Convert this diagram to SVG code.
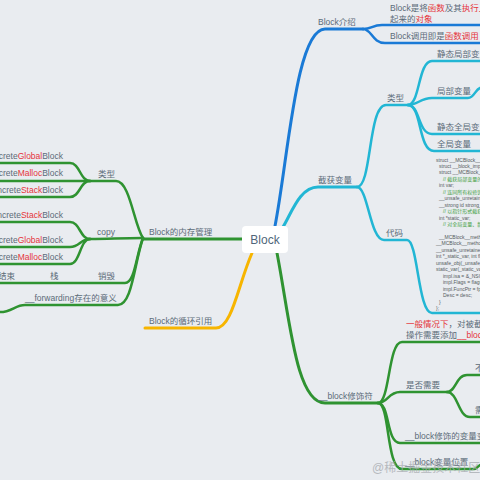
<svg xmlns="http://www.w3.org/2000/svg" width="480" height="480" viewBox="0 0 480 480">
<style>
text{font-family:"Liberation Sans","Noto Sans CJK SC",sans-serif;font-size:8.5px;fill:#5b6b78}
.r{fill:#e5343b}
.c{font-size:5px;fill:#555b60}
.cm{font-size:5px;fill:#3e9e3e}
.l{fill:none;stroke-linecap:round;stroke-linejoin:round}
.b{stroke:#1a7ad6}
.cy{stroke:#22b6d4}
.g{stroke:#2f9331}
.o{stroke:#f7b500}
.m{stroke-width:3}
.s{stroke-width:2.5}
.wm{font-size:12px;fill:#a9adb2;opacity:.8}
</style>
<rect width="480" height="480" fill="#e9ecf0"/>
<g id="connectors">
<path class="l b m" d="M275,226 C288,160 296,29 325,29 H363"/>
<path class="l b s" d="M363,29 C372,29 372,25 382,25 H480"/>
<path class="l b s" d="M363,29 C372,29 372,43 385,43 H480"/>
<path class="l cy m" d="M283,227 C292,212 300,187 318,187 H357"/>
<path class="l cy s" d="M357,187 C372,187 368,105 386,105 H408"/>
<path class="l cy s" d="M357,187 C368,187 370,240 384,240 H407 C418,240 418,313 432,313 H480"/>
<path class="l cy s" d="M408,105 C420,105 418,61 432,61 H480"/>
<path class="l cy s" d="M408,105 C418,105 420,98 432,98 H468 C474,98 475,90 480,88"/>
<path class="l cy s" d="M408,105 C420,105 418,134 432,134 H480"/>
<path class="l cy s" d="M408,105 C422,105 418,151 434,151 H480"/>
<path class="l g m" d="M242,239 H143"/>
<path class="l g s" d="M143,238 C134,225 130,181 116,181 H90"/>
<path class="l g s" d="M143,238 C120,238 110,239 90,239"/>
<path class="l g s" d="M143,238 C136,255 135,283 125,283 H0"/>
<path class="l g s" d="M143,238 C134,265 132,305 118,305 H25 C15,305 12,312 0,312"/>
<path class="l g s" d="M90,181 C80,181 80,163 70,163 H0"/>
<path class="l g s" d="M90,181 H0"/>
<path class="l g s" d="M90,181 C80,181 80,197 70,197 H0"/>
<path class="l g s" d="M90,239 C80,239 80,222 70,222 H0"/>
<path class="l g s" d="M90,239 C80,239 80,247 70,247 H0"/>
<path class="l g s" d="M90,239 C80,239 80,264 70,264 H0"/>
<path class="l o m" d="M252,253 C238,285 232,328 216,328 H145"/>
<path class="l g m" d="M277,253 C290,320 296,403 325,403 H378"/>
<path class="l g s" d="M378,403 C390,403 388,342 402,342 H480"/>
<path class="l g s" d="M378,403 C388,403 388,392 400,392 H447"/>
<path class="l g s" d="M447,392 C456,392 456,375 467,375 H480"/>
<path class="l g s" d="M447,392 C458,392 458,417 470,417 H480"/>
<path class="l g s" d="M378,403 C390,403 386,443 400,443 H480"/>
<path class="l g s" d="M378,403 C390,403 386,469 402,469 H474 C477,469 478,466 480,465"/>
</g>
<g id="root">
<rect x="242" y="226" width="46" height="27" rx="4" fill="#ffffff"/>
<text x="265" y="244" text-anchor="middle" style="font-size:12px;fill:#50667a">Block</text>
</g>
<g id="n-intro"><text x="318" y="24.5">Block介绍</text></g>
<g id="n-intro-1"><text x="390" y="11">Block是将<tspan class="r">函数</tspan>及其<tspan class="r">执行上下文</tspan>封装</text><text x="390" y="22">起来的<tspan class="r">对象</tspan></text></g>
<g id="n-intro-2"><text x="390" y="38.5">Block调用即是<tspan class="r">函数调用</tspan></text></g>
<g id="n-capture"><text x="318" y="182.5">截获变量</text></g>
<g id="n-ctype"><text x="387" y="100.5">类型</text></g>
<g id="n-ct1"><text x="437" y="56.5">静态局部变量</text></g>
<g id="n-ct2"><text x="437" y="93.5">局部变量</text></g>
<g id="n-ct3"><text x="437" y="129.5">静态全局变量</text></g>
<g id="n-ct4"><text x="437" y="146.5">全局变量</text></g>
<g id="n-code-label"><text x="386" y="235.5">代码</text></g>
<g id="n-code">
<text class="c" x="436" y="161.5">struct __MCBlock__method_0_block_impl_0 {</text>
<text class="c" x="439" y="168">struct __block_impl impl;</text>
<text class="c" x="439" y="174.4">struct __MCBlock__method_0_block_desc_0* Desc;</text>
<text class="cm" x="443" y="180.9">// 截获局部变量的值</text>
<text class="c" x="439" y="187.3">int var;</text>
<text class="cm" x="443" y="193.8">// 连同所有权修饰符一起截获</text>
<text class="c" x="439" y="200.2">__unsafe_unretained id unsafe_obj;</text>
<text class="c" x="439" y="206.7">__strong id strong_obj;</text>
<text class="cm" x="443" y="213.1">// 以指针形式截获局部静态变量</text>
<text class="c" x="439" y="219.6">int *static_var;</text>
<text class="cm" x="443" y="226">// 对全局变量、静态全局变量不截获</text>
<text class="c" x="439" y="239">__MCBlock__method_0_block_impl_0(void *fp,</text>
<text class="c" x="436" y="245.4">__MCBlock__method_0_block_desc_0 *desc, int _var,</text>
<text class="c" x="436" y="251.9">__unsafe_unretained id _unsafe_obj, __strong id _strong_obj,</text>
<text class="c" x="436" y="258.3">int *_static_var, int flags=0) : var(_var),</text>
<text class="c" x="436" y="264.8">unsafe_obj(_unsafe_obj), strong_obj(_strong_obj),</text>
<text class="c" x="436" y="271.2">static_var(_static_var) {</text>
<text class="c" x="443" y="277.7">impl.isa = &amp;_NSConcreteStackBlock;</text>
<text class="c" x="443" y="284.1">impl.Flags = flags;</text>
<text class="c" x="443" y="290.6">impl.FuncPtr = fp;</text>
<text class="c" x="443" y="297">Desc = desc;</text>
<text class="c" x="439" y="303.5">}</text>
<text class="c" x="436" y="309.9">};</text>
</g>
<g id="n-mem"><text x="149" y="234.5">Block的内存管理</text></g>
<g id="n-mtype"><text x="98" y="176.5">类型</text></g>
<g id="n-mt1"><text x="63" y="158.5" text-anchor="end">_NSConcrete<tspan class="r">Global</tspan>Block</text></g>
<g id="n-mt2"><text x="63" y="175.5" text-anchor="end">_NSConcrete<tspan class="r">Malloc</tspan>Block</text></g>
<g id="n-mt3"><text x="63" y="192.5" text-anchor="end">_NSConcrete<tspan class="r">Stack</tspan>Block</text></g>
<g id="n-copy"><text x="97" y="234.5">copy</text></g>
<g id="n-cp1"><text x="63" y="217.5" text-anchor="end">_NSConcrete<tspan class="r">Stack</tspan>Block</text></g>
<g id="n-cp2"><text x="63" y="242.5" text-anchor="end">_NSConcrete<tspan class="r">Global</tspan>Block</text></g>
<g id="n-cp3"><text x="63" y="259.5" text-anchor="end">_NSConcrete<tspan class="r">Malloc</tspan>Block</text></g>
<g id="n-destroy"><text x="98" y="278.5">销毁</text></g>
<g id="n-stack"><text x="50" y="278.5">栈</text></g>
<g id="n-end"><text x="-2" y="278.5">结束</text></g>
<g id="n-fwd"><text x="25" y="300.5">__forwarding存在的意义</text></g>
<g id="n-cycle"><text x="149" y="323.5">Block的循环引用</text></g>
<g id="n-blockmod"><text x="318" y="398.5">__block修饰符</text></g>
<g id="n-bm1"><text x="406" y="326.5"><tspan class="r">一般情况下</tspan>，对被截获变量进行赋值</text><text x="406" y="337.5">操作需要添加<tspan class="r">__block</tspan>修饰符</text></g>
<g id="n-bm2"><text x="406" y="387.5">是否需要</text></g>
<g id="n-bm2a"><text x="475" y="370.5">不需要</text></g>
<g id="n-bm2b"><text x="475" y="412.5">需要</text></g>
<g id="n-bm3"><text x="405" y="438.5">__block修饰的变量变成了对象</text></g>
<g id="n-bm4"><text x="405" y="464.5">__block变量位置</text></g>
<text class="wm" x="372" y="472">@稀土掘金技术社区</text>
</svg>
